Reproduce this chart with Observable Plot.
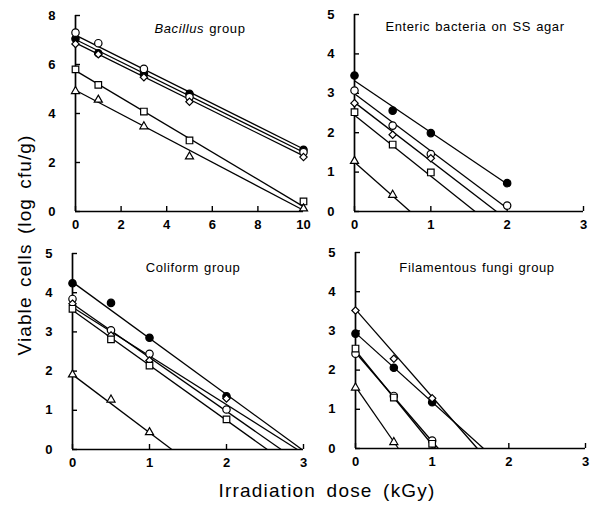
<!DOCTYPE html>
<html><head><meta charset="utf-8">
<script src="https://cdn.jsdelivr.net/npm/d3@7"></script>
<script src="https://cdn.jsdelivr.net/npm/@observablehq/plot@0.6"></script>
<style>
body{margin:0;background:#fff;font-family:"Liberation Sans",Arial,sans-serif;color:#000;}
#wrap{position:relative;width:593px;height:505px;overflow:hidden;background:#fff;}
.panel{position:absolute;}
.title{position:absolute;font-size:13px;white-space:nowrap;transform:translate(-50%,-50%);letter-spacing:0.6px;word-spacing:1px;}
.ylab{position:absolute;left:25px;top:245px;font-size:19px;white-space:nowrap;transform:translate(-50%,-50%) rotate(-90deg);letter-spacing:1.1px;word-spacing:3px;}
.xlab{position:absolute;left:327px;top:491px;font-size:19px;white-space:nowrap;transform:translate(-50%,-50%);letter-spacing:1.2px;word-spacing:4px;}
</style></head><body><div id="wrap"></div>
<script>
// ---- Data ----
const seriesOrder = ["filled", "open", "diamond", "square", "triangle"];

// Bacillus group
const bacillusDose = [0, 1, 3, 5, 10];
const bacillusFilled   = [7.05, 6.46, 5.62, 4.80, 2.52];
const bacillusOpen     = [7.30, 6.87, 5.82, 4.67, 2.42];
const bacillusDiamond  = [6.84, 6.42, 5.48, 4.48, 2.22];
const bacillusSquare   = [5.80, 5.17, 4.08, 2.90, 0.41];
const bacillusTriangle = [4.91, 4.56, 3.47, 2.24, 0.12];
const bacillusLineStart = [7.02, 7.20, 6.88, 5.75, 4.95];   // value at dose 0
const bacillusLineEnd   = [[10, 2.42], [10, 2.55], [10, 2.27], [10, 0.20], [10, 0.05]];

// Enteric bacteria on SS agar
const entericDose = [0, 0.5, 1, 2];
const entericFilled   = [3.45, 2.56, 1.99, 0.72];
const entericOpen     = [3.07, 2.18, 1.46, 0.15];
const entericDiamond  = [2.75, 1.95, 1.35, null];
const entericSquare   = [2.52, 1.70, 0.99, null];
const entericTriangle = [1.28, 0.42, null, null];
const entericLineStart = [3.32, 2.99, 2.77, 2.44, 1.25];
const entericLineEnd   = [[2, 0.70], [2, 0.08], [1.86, 0], [1.58, 0], [0.73, 0]];

// Coliform group
const coliformDose = [0, 0.5, 1, 2];
const coliformFilled   = [4.24, 3.74, 2.85, 1.36];
const coliformOpen     = [3.84, 3.04, 2.44, 1.02];
const coliformDiamond  = [3.72, 2.91, 2.27, 1.30];
const coliformSquare   = [3.59, 2.81, 2.14, 0.77];
const coliformTriangle = [1.91, 1.27, 0.44, null];
const coliformLineStart = [4.27, 3.72, 3.63, 3.55, 1.91];
const coliformLineEnd   = [[2.98, 0], [2.71, 0], [2.92, 0], [2.53, 0], [1.29, 0]];

// Filamentous fungi group
const fungiDose = [0, 0.5, 1];
const fungiFilled   = [2.93, 2.06, 1.18];
const fungiOpen     = [2.42, 1.34, 0.20];
const fungiDiamond  = [3.52, 2.29, 1.28];
const fungiSquare   = [2.55, 1.30, 0.12];
const fungiTriangle = [1.55, 0.16, null];
const fungiLineStart = [2.95, 2.45, 3.55, 2.50, 1.58];
const fungiLineEnd   = [[1.67, 0], [1.08, 0], [1.59, 0], [1.04, 0], [0.56, 0]];

// Axis ticks
const ticks0to10 = [0, 2, 4, 6, 8, 10];
const ticks0to8 = [0, 2, 4, 6, 8];
const ticks0to3 = [0, 1, 2, 3];
const ticks0to5 = [0, 1, 2, 3, 4, 5];

// ---- Build ----
function rows(dose, seriesArrays) {
  const out = [];
  seriesOrder.forEach((s, i) => {
    seriesArrays[i].forEach((v, j) => { if (v != null) out.push({dose: dose[j], value: v, series: s}); });
  });
  return out;
}
function lines(starts, ends) {
  return seriesOrder.map((s, i) => ({series: s, x1: 0, y1: starts[i], x2: ends[i][0], y2: ends[i][1]}));
}

const diamondSym = d3.symbolDiamond2 || "diamond";
const symStyle = {
  filled:   {symbol: "circle", fill: "black", r: 3.7},
  open:     {symbol: "circle", fill: "white", r: 3.7},
  diamond:  {symbol: diamondSym, fill: "white", r: 3.3},
  square:   {symbol: "square", fill: "white", r: 3.7},
  triangle: {symbol: "triangle", fill: "white", r: 3.0}
};

const panels = [
  {title: "<i>Bacillus</i> group", tx: 200, ty: 28,
   left: 20, top: 5, width: 295, height: 232, ml: 55, mr: 12, mt: 10, mb: 26,
   xd: [0, 10], yd: [0, 8], xt: ticks0to10, yt: ticks0to8,
   data: rows(bacillusDose, [bacillusFilled, bacillusOpen, bacillusDiamond, bacillusSquare, bacillusTriangle]),
   fits: lines(bacillusLineStart, bacillusLineEnd)},
  {title: "Enteric bacteria on SS agar", tx: 475, ty: 26,
   left: 320, top: 4, width: 273, height: 233, ml: 34, mr: 10, mt: 10, mb: 26,
   xd: [0, 3], yd: [0, 5], xt: ticks0to3, yt: ticks0to5,
   data: rows(entericDose, [entericFilled, entericOpen, entericDiamond, entericSquare, entericTriangle]),
   fits: lines(entericLineStart, entericLineEnd)},
  {title: "Coliform group", tx: 193, ty: 267,
   left: 20, top: 243, width: 295, height: 232, ml: 52, mr: 12, mt: 10, mb: 26,
   xd: [0, 3], yd: [0, 5], xt: ticks0to3, yt: ticks0to5,
   data: rows(coliformDose, [coliformFilled, coliformOpen, coliformDiamond, coliformSquare, coliformTriangle]),
   fits: lines(coliformLineStart, coliformLineEnd)},
  {title: "Filamentous fungi group", tx: 477, ty: 267,
   left: 320, top: 242, width: 273, height: 232, ml: 35, mr: 8, mt: 10, mb: 26,
   xd: [0, 3], yd: [0, 5], xt: ticks0to3, yt: ticks0to5,
   data: rows(fungiDose, [fungiFilled, fungiOpen, fungiDiamond, fungiSquare, fungiTriangle]),
   fits: lines(fungiLineStart, fungiLineEnd)}
];

const wrap = document.getElementById("wrap");
panels.forEach(p => {
  const marks = [
    Plot.link(p.fits, {x1: "x1", y1: "y1", x2: "x2", y2: "y2", stroke: "black", strokeWidth: 1.3}),
    Plot.ruleY([0], {stroke: "black", strokeWidth: 1.7}),
    Plot.ruleX([0], {stroke: "black", strokeWidth: 1.7}),
    // tick labels
    Plot.axisX({ticks: p.xt, tickSize: 0, tickPadding: 8, tickFormat: d => String(d), fontWeight: "bold"}),
    Plot.axisY({ticks: p.yt, tickSize: 0, tickPadding: 20, tickFormat: d => String(d), fontWeight: "bold"}),
    // inward tick marks
    Plot.axisX({ticks: p.xt, tickSize: 5, text: null, dy: -5, strokeWidth: 1.4}),
    Plot.axisY({ticks: p.yt, tickSize: 5, text: null, dx: 5, strokeWidth: 1.4})
  ];
  seriesOrder.forEach(s => {
    const st = symStyle[s];
    marks.push(Plot.dot(p.data.filter(d => d.series === s), {
      x: "dose", y: "value", symbol: st.symbol, r: st.r, fill: st.fill, stroke: "black", strokeWidth: 1.2
    }));
  });
  const svg = Plot.plot({
    width: p.width, height: p.height,
    marginLeft: p.ml, marginRight: p.mr, marginTop: p.mt, marginBottom: p.mb,
    x: {domain: p.xd, label: null},
    y: {domain: p.yd, label: null},
    style: {fontFamily: "'Liberation Sans', Arial, sans-serif", fontSize: "13px", color: "black", background: "transparent", overflow: "visible"},
    marks
  });
  const div = document.createElement("div");
  div.className = "panel";
  div.style.left = p.left + "px";
  div.style.top = p.top + "px";
  div.appendChild(svg);
  wrap.appendChild(div);
  const t = document.createElement("div");
  t.className = "title";
  t.style.left = p.tx + "px";
  t.style.top = p.ty + "px";
  t.innerHTML = p.title;
  wrap.appendChild(t);
});

const yl = document.createElement("div");
yl.className = "ylab";
yl.textContent = "Viable cells (log cfu/g)";
wrap.appendChild(yl);
const xl = document.createElement("div");
xl.className = "xlab";
xl.textContent = "Irradiation dose (kGy)";
wrap.appendChild(xl);
</script>
</body></html>
